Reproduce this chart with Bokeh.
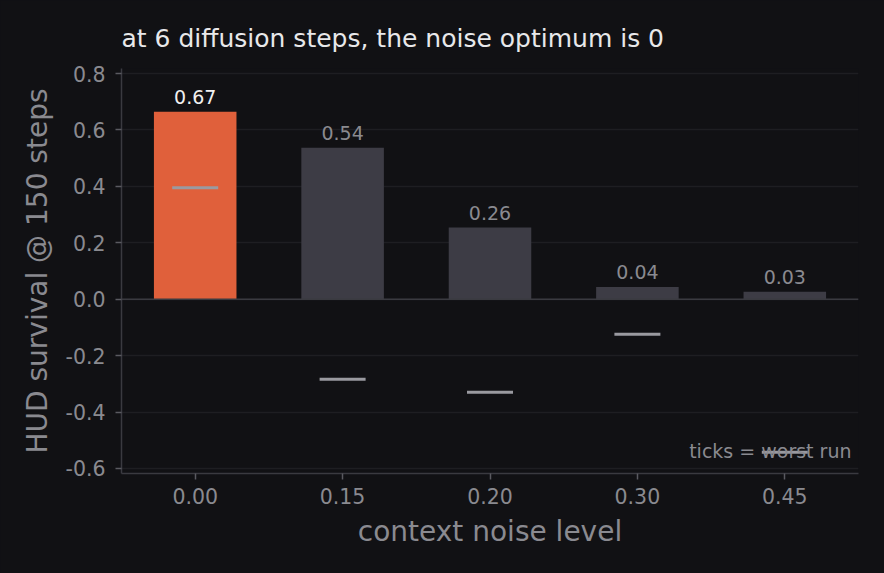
from bokeh.plotting import figure
from bokeh.models import Range1d, FixedTicker, PrintfTickFormatter, Span, Label, ColumnDataSource
from bokeh.embed import file_html
from bokeh.resources import INLINE

# context noise levels and HUD survival at 150 steps
niveles = ["0.00", "0.15", "0.20", "0.30", "0.45"]
supervivencia = [0.665, 0.537, 0.254, 0.043, 0.026]
peor_run = [0.395, -0.284, -0.330, -0.124, -0.543]
etiquetas = ["0.67", "0.54", "0.26", "0.04", "0.03"]

FONDO = "#111114"
GRIS = "#8a8a90"
FUENTE = "DejaVu Sans"

colores = ["#e0603b" if i == 0 else "#3d3c45" for i in range(len(niveles))]
colores_texto = ["#f0f0f0" if i == 0 else GRIS for i in range(len(niveles))]

fuente = ColumnDataSource(data=dict(
    nivel=niveles, valor=supervivencia, peor=peor_run,
    etiqueta=etiquetas, color=colores, color_texto=colores_texto))

p = figure(x_range=niveles, y_range=Range1d(-0.618, 0.818),
           frame_width=737, frame_height=405,
           min_border_left=121, min_border_right=26,
           min_border_top=68, min_border_bottom=100,
           output_backend="svg", toolbar_location=None,
           title="at 6 diffusion steps, the noise optimum is 0",
           x_axis_label="context noise level",
           y_axis_label="HUD survival @ 150 steps")

p.background_fill_color = FONDO
p.border_fill_color = FONDO
p.outline_line_color = None

p.title.text_font = FUENTE
p.title.text_font_size = "25px"
p.title.text_font_style = "normal"
p.title.text_color = "#e8e8ea"
p.title.align = "left"
p.title.standoff = 31

p.xgrid.grid_line_color = None
p.ygrid.grid_line_color = "#1e1e22"
p.ygrid.grid_line_width = 1.5
p.yaxis.ticker = FixedTicker(ticks=[-0.6, -0.4, -0.2, 0.0, 0.2, 0.4, 0.6, 0.8])
p.yaxis.formatter = PrintfTickFormatter(format="%.1f")

for eje in (p.xaxis, p.yaxis):
    eje.axis_line_color = "#3a3a40"
    eje.axis_line_width = 1.5
    eje.major_tick_line_color = "#5a5a60"
    eje.major_tick_line_width = 1.5
    eje.major_tick_out = 6
    eje.major_tick_in = 0
    eje.minor_tick_line_color = None
    eje.major_label_text_font = FUENTE
    eje.major_label_text_font_size = "20.5px"
    eje.major_label_text_color = GRIS
    eje.axis_label_text_font = FUENTE
    eje.axis_label_text_font_size = "28px"
    eje.axis_label_text_font_style = "normal"
    eje.axis_label_text_color = GRIS

p.xaxis.major_label_standoff = 8
p.yaxis.major_label_standoff = 10
p.xaxis.axis_label_standoff = 8
p.yaxis.axis_label_standoff = 9

p.vbar(x="nivel", top="valor", width=0.56, fill_color="color",
       line_color=None, source=fuente)

cero = Span(location=0, dimension="width", line_color="#3a3a40", line_width=1.5)
p.add_layout(cero)

p.scatter(x="nivel", y="peor", marker="dash", size=46, line_width=3,
          line_color="#9a9aa0", source=fuente)

p.text(x="nivel", y="valor", text="etiqueta", text_color="color_texto",
       text_font_size="19px", text_font={"value": FUENTE},
       text_align="center", text_baseline="alphabetic", y_offset=-15,
       source=fuente)

nota = Label(x=730, y=23, x_units="screen", y_units="screen",
             text="ticks = worst run", text_align="right",
             text_baseline="alphabetic", text_font=FUENTE,
             text_font_size="19px", text_color=GRIS)
p.add_layout(nota)

html = file_html(p, INLINE).replace(
    "</head>", "<style>body{background:%s;}</style></head>" % FONDO)
open("out.html", "w").write(html)
